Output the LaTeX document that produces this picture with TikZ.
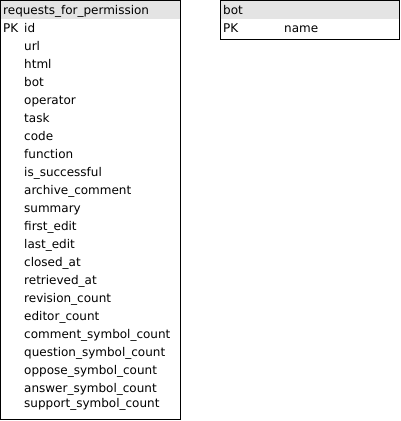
\documentclass[tikz,border=0pt]{standalone}
\usepackage{fontspec}
\setmainfont{DejaVu Sans}
\usepackage{xcolor}
\definecolor{headgray}{RGB}{228,228,228}
\tikzset{
  field/.style={anchor=base west,inner sep=0pt,font=\fontsize{12}{14}\selectfont},
  tablebox/.style={draw=black,line width=1pt}
}

\begin{document}
\begin{tikzpicture}[x=1pt,y=1pt]

\useasboundingbox (0,0) rectangle (401,-421) ;

% requests_for_permission
\fill [headgray] (0.5,-0.5) rectangle (180.5,-18.5) ;
\draw [tablebox] (0.5,-0.5) rectangle (180.5,-419.5) ;
\node [field] (rfp) at (3,-14) {requests\_for\_permission} ;
\node [field] (pk1) at (3,-32) {PK} ;
\node [field] (id) at (24,-32) {id} ;
\node [field] (url) at (24,-50) {url} ;
\node [field] (html) at (24,-68) {html} ;
\node [field] (botf) at (24,-86) {bot} ;
\node [field] (operator) at (24,-104) {operator} ;
\node [field] (task) at (24,-122) {task} ;
\node [field] (code) at (24,-140) {code} ;
\node [field] (function) at (24,-158) {function} ;
\node [field] (succ) at (24,-176) {is\_successful} ;
\node [field] (archive) at (24,-194) {archive\_comment} ;
\node [field] (summary) at (24,-212) {summary} ;
\node [field] (first) at (24,-230) {first\_edit} ;
\node [field] (last) at (24,-248) {last\_edit} ;
\node [field] (closed) at (24,-266) {closed\_at} ;
\node [field] (retrieved) at (24,-284) {retrieved\_at} ;
\node [field] (revision) at (24,-302) {revision\_count} ;
\node [field] (editor) at (24,-320) {editor\_count} ;
\node [field] (comment) at (24,-338) {comment\_symbol\_count} ;
\node [field] (question) at (24,-356) {question\_symbol\_count} ;
\node [field] (oppose) at (24,-374) {oppose\_symbol\_count} ;
\node [field] (answer) at (24,-392) {answer\_symbol\_count} ;
\node [field] (support) at (24,-407) {support\_symbol\_count} ;

% bot
\fill [headgray] (220.5,-0.5) rectangle (399.5,-18.5) ;
\draw [tablebox] (220.5,-0.5) rectangle (399.5,-39.5) ;
\node [field] (bot) at (223,-14) {bot} ;
\node [field] (pk2) at (223,-32) {PK} ;
\node [field] (name) at (284,-32) {name} ;

\end{tikzpicture}
\end{document}
